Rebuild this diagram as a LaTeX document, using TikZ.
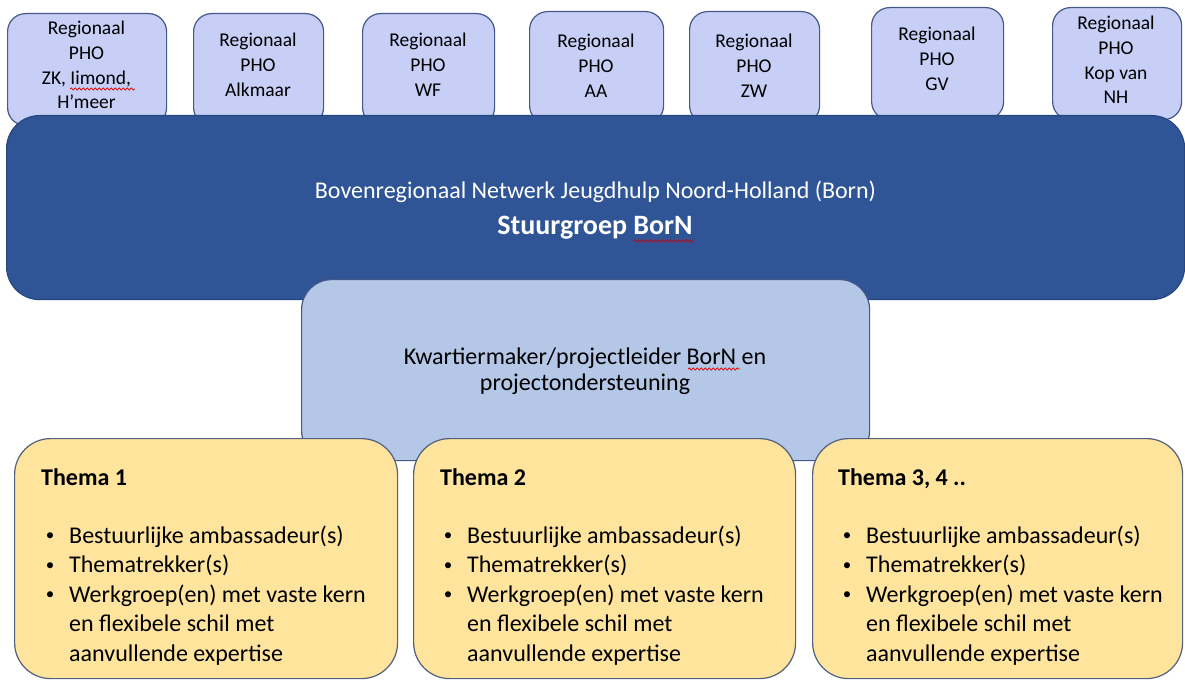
\documentclass[tikz,border=0pt]{standalone}
\usepackage{fontspec}
\setmainfont{Carlito}
\usetikzlibrary{decorations.pathmorphing}
\definecolor{topfill}{RGB}{200,207,246}
\definecolor{edgecol}{RGB}{68,88,138}
\definecolor{mainfill}{RGB}{47,85,151}
\definecolor{mainedge}{RGB}{40,70,126}
\definecolor{midfill}{RGB}{180,199,231}
\definecolor{themefill}{RGB}{254,228,156}
\definecolor{themeedge}{RGB}{82,96,128}
\newcommand\fTop{\fontsize{19.5}{24.5}\selectfont}
\newcommand\fBody{\fontsize{24}{29.5}\selectfont}
\newcommand\fBul{\fontsize{17}{20}\selectfont}
\newcommand\fBig{\fontsize{28}{34}\selectfont\bfseries}
% #1 prefix, #2 centre x, #3 first baseline y, #4 list of lines
\newcommand\toplines[4]{%
  \foreach \t [count=\i] in {#4}
    \node[toptext] (#1-\i) at (#2,{#3+24.8*(\i-1)}) {\t};}
% #1 prefix, #2 box left x
\newcommand\themelines[2]{%
  \foreach \b/\t [count=\i] in {1/Bestuurlijke ambassadeur(s),1/Thematrekker(s),1/Werkgroep(en) met vaste kern,0/en flexibele schil met,0/aanvullende expertise}{
    \node[listtext] (#1-\i) at ({#2+55},{543+29.5*(\i-1)}) {\t};
    \ifnum\b=1 \node[bullettext] (#1-b\i) at ({#2+36},{540.5+29.5*(\i-1)}) {•};\fi
  }}
\begin{document}
\begin{tikzpicture}[x=1pt,y=-1pt,
  boxbase/.style={anchor=north west, inner sep=0pt, line width=1.2pt},
  topbox/.style={boxbase, draw=edgecol, fill=topfill, rounded corners=18pt, minimum height=112pt},
  mainbox/.style={boxbase, draw=mainedge, fill=mainfill, rounded corners=33pt},
  midbox/.style={boxbase, draw=edgecol, fill=midfill, rounded corners=30pt},
  themebox/.style={boxbase, draw=themeedge, fill=themefill, rounded corners=36pt, minimum height=240pt},
  toptext/.style={anchor=base, inner sep=0pt, font=\fTop},
  headtext/.style={anchor=base west, inner sep=0pt, font=\fBody\bfseries},
  listtext/.style={anchor=base west, inner sep=0pt, font=\fBody},
  bullettext/.style={anchor=base, inner sep=0pt, font=\fBul},
  squig/.style={draw=red!85!black, line width=0.7pt, decorate, decoration={snake, segment length=4pt, amplitude=1.1pt}}
]
\useasboundingbox (0,0) rectangle (1185,684);

% top boxes
\node[topbox, minimum width=159pt] (r1) at (7,13) {};
\node[topbox, minimum width=130pt] (r2) at (193,13) {};
\node[topbox, minimum width=132pt] (r3) at (362,13) {};
\node[topbox, minimum width=134pt] (r4) at (529,11) {};
\node[topbox, minimum width=130pt] (r5) at (689,11) {};
\node[topbox, minimum width=132pt] (r6) at (871,7) {};
\node[topbox, minimum width=129pt] (r7) at (1052,7) {};

\toplines{t1}{86.5}{34.5}{Regionaal,PHO,{ZK, Iimond,},H’meer}
\toplines{t2}{258}{47}{Regionaal,PHO,Alkmaar}
\toplines{t3}{428}{47}{Regionaal,PHO,WF}
\toplines{t4}{596}{48}{Regionaal,PHO,AA}
\toplines{t5}{754}{48}{Regionaal,PHO,ZW}
\toplines{t6}{937}{41}{Regionaal,PHO,GV}
\toplines{t7}{1116}{29.5}{Regionaal,PHO,Kop van,NH}
\draw[squig] (70,89) -- (135,89);

% main box
\node[mainbox, minimum width=1178pt, minimum height=184pt] (main) at (6,115) {};
\node[anchor=base, inner sep=0pt, font=\fBody, text=white] (mainA) at (595.5,198.5) {Bovenregionaal Netwerk Jeugdhulp Noord-Holland (Born)};
\node[anchor=base, inner sep=0pt, font=\fBig, text=white] (mainB) at (595,234.5) {Stuurgroep BorN};
\draw[squig] (633,241) -- (694,241);

% middle box
\node[midbox, minimum width=568pt, minimum height=181pt] (mid) at (301,279) {};
\node[anchor=base, inner sep=0pt, font=\fBody] (midA) at (585,364.5) {Kwartiermaker/projectleider BorN en};
\node[anchor=base, inner sep=0pt, font=\fBody] (midB) at (585,390.5) {projectondersteuning};
\draw[squig] (688,369) -- (740,369);

% theme boxes
\node[themebox, minimum width=383pt] (th1) at (14,438) {};
\node[themebox, minimum width=382pt] (th2) at (413,438) {};
\node[themebox, minimum width=370pt] (th3) at (812,438) {};

\node[headtext] (h1) at (41,485) {Thema 1};
\node[headtext] (h2) at (440,485) {Thema 2};
\node[headtext] (h3) at (838,485) {Thema 3, 4 ..};

\themelines{l1}{14}
\themelines{l2}{412}
\themelines{l3}{811}
\end{tikzpicture}
\end{document}
